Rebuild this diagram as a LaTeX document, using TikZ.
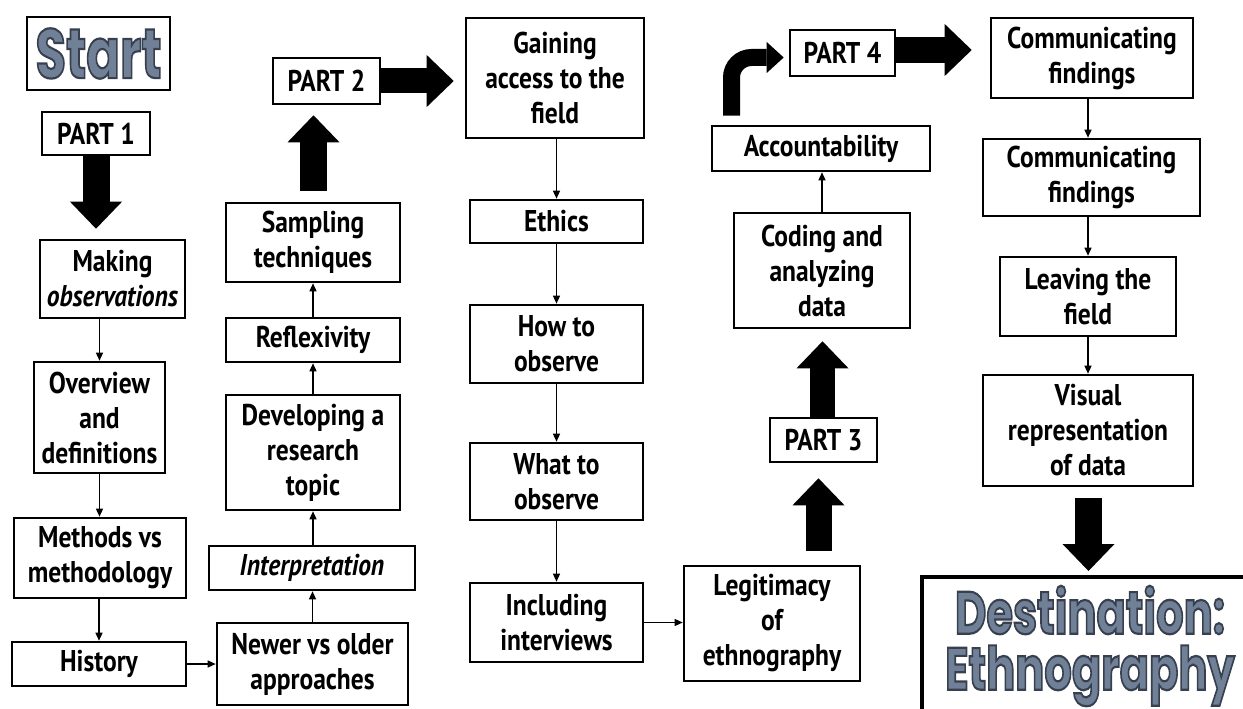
\documentclass[tikz,border=0pt]{standalone}
\usepackage{fontspec}
\setmainfont{PT Sans}[FakeStretch=0.85]
\newfontfamily\dispfont{Poppins}
\usetikzlibrary{arrows.meta,calc}
\definecolor{slate}{RGB}{112,128,150}
\newcommand\outlinedtext[1]{\special{pdf:literal direct 2 Tr 2.2 w 0.22 0.25 0.31 RG}#1\special{pdf:literal direct 0 Tr}}
\tikzset{
  stepbox/.style={draw, line width=2.6pt, align=center, inner sep=0pt,
    font=\fontsize{30}{35}\selectfont\bfseries},
  flow/.style={-{Triangle[width=7pt,length=8pt]}, line width=1.3pt},
  bigarrow/.style={line width=27pt, -{Triangle[width=52pt,length=27pt,line width=0pt]}},
  curvearrow/.style={line width=17pt, rounded corners=20pt, -{Triangle[width=31pt,length=17pt,line width=0pt]}},
  disp/.style={font=\dispfont\bfseries\fontsize{60}{56}\selectfont, text=slate, align=center}
}
\begin{document}
\begin{tikzpicture}[x=1pt,y=-1pt]
\useasboundingbox (0,0) rectangle (1243,709);
\clip (0,0) rectangle (1243,709);
\fill[white] (0,0) rectangle (1243,709);

% column 1
\node[stepbox, minimum width=143pt, minimum height=73pt] (start) at (98.5,53.5)
  {\dispfont\fontsize{70}{70}\selectfont\color{slate}\scalebox{0.71}[1]{\outlinedtext{Start}}};
\node[stepbox, minimum width=108pt, minimum height=43pt] (p1) at (96,133.5) {PART 1};
\node[stepbox, minimum width=145pt, minimum height=78pt] (making) at (112.5,279) {Making\\\textit{observations}};
\node[stepbox, minimum width=131pt, minimum height=111pt] (overview) at (99.5,417.5) {Overview\\and\\definitions};
\node[stepbox, minimum width=172pt, minimum height=80pt] (methods) at (100,558) {Methods vs\\methodology};
\node[stepbox, minimum width=174pt, minimum height=44pt] (history) at (99,664) {History};

% column 2
\node[stepbox, minimum width=191pt, minimum height=82pt] (newer) at (312.5,664) {Newer vs older\\approaches};
\node[stepbox, minimum width=206pt, minimum height=44pt] (interp) at (312,568) {\textit{Interpretation}};
\node[stepbox, minimum width=174pt, minimum height=115pt] (develop) at (313,452.5) {Developing a\\research\\topic};
\node[stepbox, minimum width=174pt, minimum height=44pt] (reflex) at (313,340) {Reflexivity};
\node[stepbox, minimum width=174pt, minimum height=79pt] (sampling) at (313,242.5) {Sampling\\techniques};
\node[stepbox, minimum width=107pt, minimum height=46pt] (p2) at (326.5,81) {PART 2};

% column 3
\node[stepbox, minimum width=178pt, minimum height=120pt] (gaining) at (555,78) {Gaining\\access to the\\field};
\node[stepbox, minimum width=173pt, minimum height=43pt] (ethics) at (556.5,221.5) {Ethics};
\node[stepbox, minimum width=173pt, minimum height=78pt] (how) at (556.5,344) {How to\\observe};
\node[stepbox, minimum width=173pt, minimum height=77pt] (what) at (556.5,481.5) {What to\\observe};
\node[stepbox, minimum width=173pt, minimum height=79pt] (incl) at (556.5,622.5) {Including\\interviews};

% column 4
\node[stepbox, minimum width=176pt, minimum height=115pt] (legit) at (772,623.5) {Legitimacy\\of\\ethnography};
\node[stepbox, minimum width=107pt, minimum height=44pt] (p3) at (823.5,440) {PART 3};
\node[stepbox, minimum width=176pt, minimum height=115pt] (coding) at (822,270.5) {Coding and\\analyzing\\data};
\node[stepbox, minimum width=218pt, minimum height=45pt] (account) at (821,148.5) {Accountability};
\node[stepbox, minimum width=105pt, minimum height=46pt] (p4) at (842.5,53) {PART 4};

% column 5
\node[stepbox, minimum width=202pt, minimum height=80pt] (comm1) at (1092,58) {Communicating\\findings};
\node[stepbox, minimum width=217pt, minimum height=77pt] (comm2) at (1091.5,177.5) {Communicating\\findings};
\node[stepbox, minimum width=176pt, minimum height=79pt] (leaving) at (1088,296.5) {Leaving the\\field};
\node[stepbox, minimum width=210pt, minimum height=111pt] (visual) at (1088,430.5) {Visual\\representation\\of data};
\node[draw, line width=4pt, minimum width=340pt, minimum height=145pt, inner sep=0pt] (dest) at (1092,649.5) {};
\node[disp, inner sep=0pt] (desttext) at (1090,646)
  {\scalebox{0.72}[1]{\outlinedtext{Destination:}}\\\scalebox{0.72}[1]{\outlinedtext{Ethnography}}};

% small connectors
\draw[flow] (making.south -| overview.north) -- (overview.north);
\draw[flow] (overview.south) -- (overview.south |- methods.north);
\draw[flow] (methods.south -| history.north) -- (history.north);
\draw[flow] (history.east) -- (newer.west);
\draw[flow] (newer.north) -- (newer.north |- interp.south);
\draw[flow] (interp.north -| develop.south) -- (develop.south);
\draw[flow] (develop.north) -- (reflex.south);
\draw[flow] (reflex.north) -- (sampling.south);
\draw[flow] (gaining.south -| ethics.north) -- (ethics.north);
\draw[flow] (ethics.south) -- (how.north);
\draw[flow] (how.south) -- (what.north);
\draw[flow] (what.south) -- (incl.north);
\draw[flow] (incl.east) -- (incl.east -| legit.west);
\draw[flow] (coding.north) -- (account.south -| coding.north);
\draw[flow] (comm1.south -| leaving.north) -- (leaving.north |- comm2.north);
\draw[flow] (comm2.south -| leaving.north) -- (leaving.north);
\draw[flow] (leaving.south) -- (visual.north);

% big arrows
\draw[bigarrow] (p1.south) -- ($(p1.south |- making.north)+(0,-10)$);
\draw[bigarrow] ($(sampling.north)+(0.5,-11)$) -- ($(sampling.north |- p2.south)+(0.5,10)$);
\draw[bigarrow, line width=25pt] (p2.east) -- ($(p2.east -| gaining.west)+(-11,0)$);
\draw[bigarrow, line width=26pt] ($(legit.north -| p3.south)+(-5,-14)$) -- ($(p3.south)+(-5,15)$);
\draw[bigarrow, line width=25pt] ($(p3.north)+(-1,0)$) -- ($(p3.north |- coding.south)+(-1,12)$);
\draw[curvearrow] ($(account.north)+(-89.5,-9)$) |- ($(p4.west)+(-5,4.5)$);
\draw[bigarrow, line width=26pt] ($(p4.east)+(0,-3)$) -- ($(comm1.west)+(-18,-8)$);
\draw[bigarrow] ($(visual.south)+(0.5,11)$) -- ($(visual.south |- dest.north)+(0.5,-4)$);
\end{tikzpicture}
\end{document}
